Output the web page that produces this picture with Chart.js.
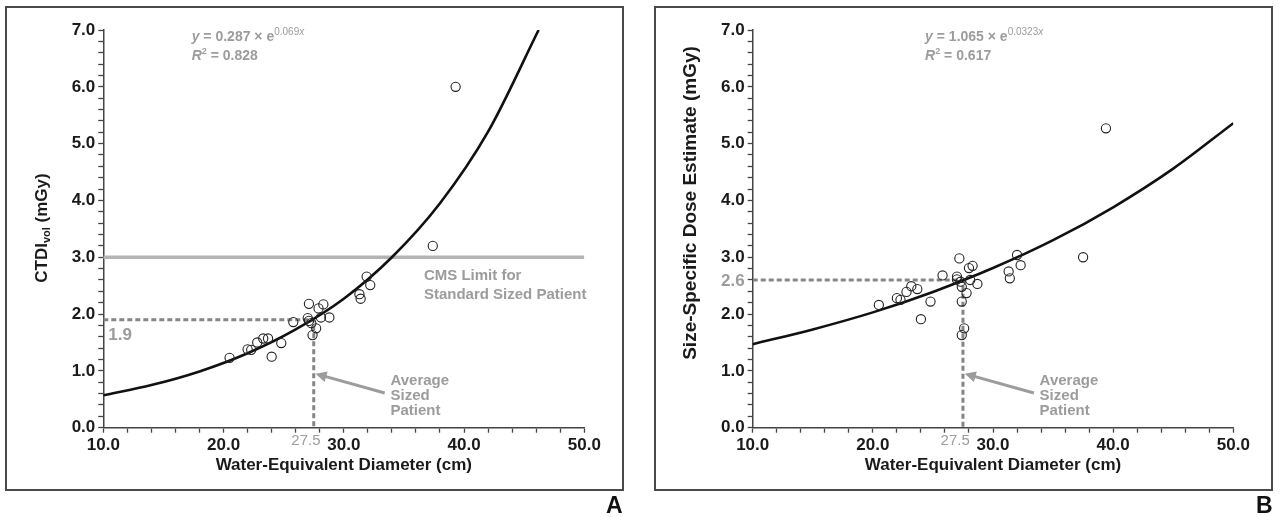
<!doctype html>
<html>

<head>
    <title>Dose vs Water-Equivalent Diameter</title>
    <script src="https://cdn.jsdelivr.net/npm/chart.js"></script>
    <style>
        body { margin: 0; background: #fff; width: 1282px; height: 517px; position: relative; overflow: hidden; }
        .box { position: absolute; border: 2px solid #4a4a4a; box-sizing: border-box; }
        canvas { position: absolute; top: 0; }
        .tag { position: absolute; font: bold 23px "Liberation Sans", Arial, sans-serif; color: #111; }
    </style>
</head>

<body>
    <div class="box" style="left: 5px; top: 6px; width: 619px; height: 485px;"></div>
    <div class="box" style="left: 654px; top: 6px; width: 619px; height: 485px;"></div>
    <canvas id="panelA" width="640" height="517" style="left: 0;"></canvas>
    <canvas id="panelB" width="642" height="517" style="left: 640px;"></canvas>
    <div class="tag" style="left: 606px; top: 492px;">A</div>
    <div class="tag" style="left: 1256px; top: 492px;">B</div>

    <script>
    const FONT = '"Liberation Sans", Arial, sans-serif';
    const GREY_TEXT = '#9c9c9c';
    const GREY_LINE = '#858585';

    // panel A : CTDIvol
    const diameterA = [20.5, 22.0, 22.3, 22.8, 23.3, 23.7, 24.0, 24.8, 25.8, 27.1, 27.0, 27.1, 27.3, 27.4, 27.7,
        27.9, 28.1, 28.3, 28.8, 31.3, 31.4, 31.9, 32.2, 37.4, 39.3];
    const ctdiA = [1.23, 1.38, 1.37, 1.50, 1.57, 1.57, 1.25, 1.49, 1.86, 2.18, 1.93, 1.88, 1.84, 1.63, 1.75,
        2.10, 1.94, 2.17, 1.94, 2.35, 2.27, 2.66, 2.51, 3.20, 6.00];
    const fitXA = [10, 14, 18, 22, 26, 30, 34, 38, 42, 46.2];
    const fitYA = [0.57, 0.75, 0.99, 1.31, 1.73, 2.27, 3.00, 3.95, 5.21, 7.00];
    const CMS_LIMIT = 3.0;
    const AVG_DIAMETER = 27.5;
    const doseAtAvgA = 1.9;

    // panel B : SSDE
    const diameterB = [20.5, 22.0, 22.3, 22.8, 23.2, 23.7, 24.0, 24.8, 25.8, 27.2, 27.0, 27.0, 27.3, 27.4, 27.8,
        27.4, 27.6, 27.4, 28.0, 28.3, 28.1, 28.7, 31.3, 31.4, 32.0, 32.3, 37.5, 39.4];
    const ssdeB = [2.16, 2.28, 2.25, 2.39, 2.49, 2.44, 1.91, 2.22, 2.68, 2.98, 2.66, 2.61, 2.57, 2.48, 2.37,
        2.22, 1.75, 1.63, 2.81, 2.85, 2.60, 2.53, 2.75, 2.63, 3.04, 2.86, 3.00, 5.27];
    const fitXB = [10, 15, 20, 25, 30, 35, 40, 45, 50];
    const fitYB = [1.47, 1.73, 2.03, 2.39, 2.81, 3.30, 3.88, 4.56, 5.36];
    const doseAtAvgB = 2.6;

    function pts(xs, ys) {
        return xs.map((x, i) => ({ x: x, y: ys[i] }));
    }

    function isWhole(v, step) {
        return Math.abs(v / step - Math.round(v / step)) < 1e-6;
    }

    // draws a run of text pieces [text, font, dy] left to right
    function drawRun(ctx, parts, x, y) {
        parts.forEach(p => {
            ctx.font = p[1];
            ctx.fillText(p[0], x, y + (p[2] || 0));
            x += ctx.measureText(p[0]).width;
        });
    }

    function runWidth(ctx, parts) {
        let w = 0;
        parts.forEach(p => { ctx.font = p[1]; w += ctx.measureText(p[0]).width; });
        return w;
    }

    function notesPlugin(cfg) {
        return {
            id: 'notes',
            afterDraw(chart) {
                const ctx = chart.ctx;
                const sx = chart.scales.x, sy = chart.scales.y;
                const area = chart.chartArea;
                ctx.save();
                ctx.textBaseline = 'alphabetic';
                ctx.textAlign = 'left';

                // y axis title, rotated
                ctx.save();
                ctx.translate(cfg.yTitleX, cfg.yTitleY);
                ctx.rotate(-Math.PI / 2);
                ctx.fillStyle = '#1a1a1a';
                const w = runWidth(ctx, cfg.yTitle);
                ctx.textBaseline = 'middle';
                drawRun(ctx, cfg.yTitle, -w / 2, 0);
                ctx.restore();

                // x axis title
                ctx.fillStyle = '#1a1a1a';
                ctx.font = 'bold 17px ' + FONT;
                ctx.textAlign = 'center';
                ctx.fillText('Water-Equivalent Diameter (cm)', (area.left + area.right) / 2, area.bottom + 42);

                // regression equation
                ctx.textAlign = 'left';
                ctx.fillStyle = GREY_TEXT;
                const ex = sx.getPixelForValue(cfg.eqX);
                drawRun(ctx, [
                    ['y', 'italic bold 14px ' + FONT],
                    [' = ' + cfg.coef + ' \u00d7 e', 'bold 14px ' + FONT],
                    [cfg.expo, '10px ' + FONT, -6],
                    ['x', 'italic 10px ' + FONT, -6]
                ], ex, sy.getPixelForValue(6.81));
                drawRun(ctx, [
                    ['R', 'italic bold 14px ' + FONT],
                    ['2', 'bold 9px ' + FONT, -6],
                    [' = ' + cfg.r2, 'bold 14px ' + FONT]
                ], ex, sy.getPixelForValue(6.47));

                // 27.5 marker under x axis
                ctx.font = '15px ' + FONT;
                ctx.textAlign = 'center';
                ctx.fillText(String(AVG_DIAMETER), sx.getPixelForValue(26.85), area.bottom + 17);

                // dose at average size
                ctx.font = 'bold 17px ' + FONT;
                if (cfg.doseInside) {
                    ctx.textAlign = 'left';
                    ctx.fillText(cfg.doseLabel, area.left + 5, sy.getPixelForValue(cfg.dose) + 20);
                } else {
                    ctx.textAlign = 'right';
                    ctx.textBaseline = 'middle';
                    ctx.fillText(cfg.doseLabel, area.left - 8, sy.getPixelForValue(cfg.dose) + 1);
                    ctx.textBaseline = 'alphabetic';
                }

                // CMS limit note
                if (cfg.cms) {
                    ctx.textAlign = 'left';
                    ctx.font = 'bold 15px ' + FONT;
                    const cx = sx.getPixelForValue(36.66);
                    ctx.fillText('CMS Limit for', cx, sy.getPixelForValue(2.6));
                    ctx.fillText('Standard Sized Patient', cx, sy.getPixelForValue(2.27));
                }

                // arrow to the average patient line
                const hx = sx.getPixelForValue(27.65), hy = sy.getPixelForValue(0.95);
                const tx = sx.getPixelForValue(33.4), ty = sy.getPixelForValue(0.61);
                const ang = Math.atan2(hy - ty, hx - tx);
                ctx.strokeStyle = GREY_TEXT;
                ctx.lineWidth = 3;
                ctx.beginPath();
                ctx.moveTo(tx, ty);
                ctx.lineTo(hx - 8 * Math.cos(ang), hy - 8 * Math.sin(ang));
                ctx.stroke();
                ctx.beginPath();
                ctx.moveTo(hx, hy);
                ctx.lineTo(hx - 11 * Math.cos(ang) + 5.5 * Math.sin(ang), hy - 11 * Math.sin(ang) - 5.5 * Math.cos(ang));
                ctx.lineTo(hx - 11 * Math.cos(ang) - 5.5 * Math.sin(ang), hy - 11 * Math.sin(ang) + 5.5 * Math.cos(ang));
                ctx.closePath();
                ctx.fill();

                ctx.font = 'bold 15px ' + FONT;
                ctx.textAlign = 'left';
                const lx = sx.getPixelForValue(33.88);
                ctx.fillText('Average', lx, sy.getPixelForValue(0.76));
                ctx.fillText('Sized', lx, sy.getPixelForValue(0.49));
                ctx.fillText('Patient', lx, sy.getPixelForValue(0.22));

                ctx.restore();
            }
        };
    }

    function makeChart(id, cfg) {
        const datasets = [{
            data: pts(cfg.xs, cfg.ys),
            pointRadius: 4.6,
            pointBorderWidth: 1.1,
            pointBorderColor: '#222',
            pointBackgroundColor: 'rgba(0,0,0,0)',
            showLine: false,
            order: 0
        }, {
            data: pts(cfg.fitX, cfg.fitY),
            showLine: true,
            borderColor: '#111',
            borderWidth: 2.6,
            pointRadius: 0,
            cubicInterpolationMode: 'monotone',
            order: 1
        }, {
            // dashed guide to the average sized patient
            data: [{ x: 10, y: cfg.dose }, { x: AVG_DIAMETER, y: cfg.dose }, { x: AVG_DIAMETER, y: 0 }],
            showLine: true,
            borderColor: GREY_LINE,
            borderWidth: 3,
            borderDash: [5, 3],
            pointRadius: 0,
            order: 2
        }];
        if (cfg.cms) {
            datasets.push({
                data: [{ x: 10, y: CMS_LIMIT }, { x: 50, y: CMS_LIMIT }],
                showLine: true,
                borderColor: '#b4b4b4',
                borderWidth: 3.5,
                pointRadius: 0,
                order: 3
            });
        }

        return new Chart(document.getElementById(id).getContext('2d'), {
            type: 'scatter',
            data: { datasets: datasets },
            options: {
                responsive: false,
                animation: false,
                events: [],
                layout: { padding: { left: 0, top: 30, right: cfg.padRight, bottom: 0 } },
                plugins: { legend: { display: false }, tooltip: { enabled: false } },
                scales: {
                    x: {
                        type: 'linear',
                        min: 10,
                        max: 50,
                        afterFit: s => { s.height = 89.3; },
                        border: { color: '#444', width: 1.5 },
                        grid: { drawOnChartArea: false, tickLength: 5, tickColor: '#444', tickWidth: 1.3 },
                        ticks: {
                            stepSize: 2,
                            autoSkip: false,
                            maxRotation: 0,
                            padding: 2,
                            color: '#1a1a1a',
                            font: { family: FONT, size: 17, weight: 'bold' },
                            callback: v => isWhole(v, 10) ? v.toFixed(1) : ''
                        }
                    },
                    y: {
                        min: 0,
                        max: 7,
                        afterFit: s => { s.width = cfg.yWidth; },
                        border: { color: '#444', width: 1.5 },
                        grid: { drawOnChartArea: false, tickLength: 5, tickColor: '#444', tickWidth: 1.3 },
                        ticks: {
                            stepSize: 0.2,
                            autoSkip: false,
                            padding: 3,
                            color: '#1a1a1a',
                            font: { family: FONT, size: 17, weight: 'bold' },
                            callback: v => isWhole(v, 1) ? v.toFixed(1) : ''
                        }
                    }
                }
            },
            plugins: [notesPlugin(cfg)]
        });
    }

    makeChart('panelA', {
        xs: diameterA, ys: ctdiA, fitX: fitXA, fitY: fitYA,
        dose: doseAtAvgA, doseLabel: '1.9', doseInside: true, cms: true,
        yWidth: 103.3, padRight: 55.7,
        coef: '0.287', expo: '0.069', r2: '0.828', eqX: 17.35,
        yTitleX: 42, yTitleY: 228,
        yTitle: [['CTDI', 'bold 17px ' + FONT], ['vol', 'bold 11px ' + FONT, 5], [' (mGy)', 'bold 17px ' + FONT]]
    });

    makeChart('panelB', {
        xs: diameterB, ys: ssdeB, fitX: fitXB, fitY: fitYB,
        dose: doseAtAvgB, doseLabel: '2.6', doseInside: false, cms: false,
        yWidth: 112.7, padRight: 48.7,
        coef: '1.065', expo: '0.0323', r2: '0.617', eqX: 24.35,
        yTitleX: 50.5, yTitleY: 203,
        yTitle: [['Size-Specific Dose Estimate (mGy)', 'bold 19px ' + FONT]]
    });
    </script>
</body>

</html>
